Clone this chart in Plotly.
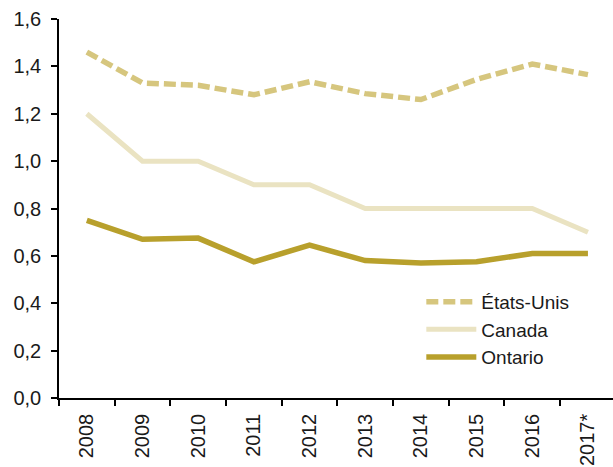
import plotly.graph_objects as go

years = ["2008", "2009", "2010", "2011", "2012", "2013", "2014", "2015", "2016", "2017*"]
etats_unis = [1.46, 1.33, 1.32, 1.28, 1.335, 1.285, 1.26, 1.345, 1.41, 1.365]
canada = [1.2, 1.0, 1.0, 0.9, 0.9, 0.8, 0.8, 0.8, 0.8, 0.7]
ontario = [0.75, 0.67, 0.675, 0.575, 0.645, 0.58, 0.57, 0.575, 0.61, 0.61]

font_family = "Liberation Sans, Arial, sans-serif"

fig = go.Figure()
fig.add_trace(go.Scatter(x=years, y=etats_unis, name="États-Unis", mode="lines",
                         line=dict(color="#D6C67E", width=5.5, dash="12px,5px")))
fig.add_trace(go.Scatter(x=years, y=canada, name="Canada", mode="lines",
                         line=dict(color="#EAE3C2", width=5)))
fig.add_trace(go.Scatter(x=years, y=ontario, name="Ontario", mode="lines",
                         line=dict(color="#B8A02C", width=5.5)))

fig.update_layout(
    width=613, height=467,
    margin=dict(l=59, r=0, t=19, b=69),
    plot_bgcolor="white", paper_bgcolor="white",
    separators=", ",
    font=dict(family=font_family, size=20, color="#1a1a1a"),
    showlegend=True,
    legend=dict(x=0.654, y=0.18, xanchor="left", yanchor="middle",
                bgcolor="rgba(0,0,0,0)", font=dict(size=19),
                itemwidth=50),
    xaxis=dict(
        type="category", range=[-0.5, 9.45], automargin=False,
        showline=True, linecolor="black", linewidth=1.5,
        ticks="outside", ticklen=6, tickcolor="black", tickwidth=1.5,
        tickson="boundaries", tickangle=-90, ticklabelstandoff=6,
        tickfont=dict(size=20),
        showgrid=False, zeroline=False,
    ),
    yaxis=dict(
        range=[0, 1.6], dtick=0.2, tickformat=".1f", automargin=False,
        showline=True, linecolor="black", linewidth=1.5,
        ticks="outside", ticklen=6, tickcolor="black", tickwidth=1.5,
        ticklabelstandoff=6,
        showgrid=False, zeroline=False,
    ),
)

fig.write_html("out.html")
